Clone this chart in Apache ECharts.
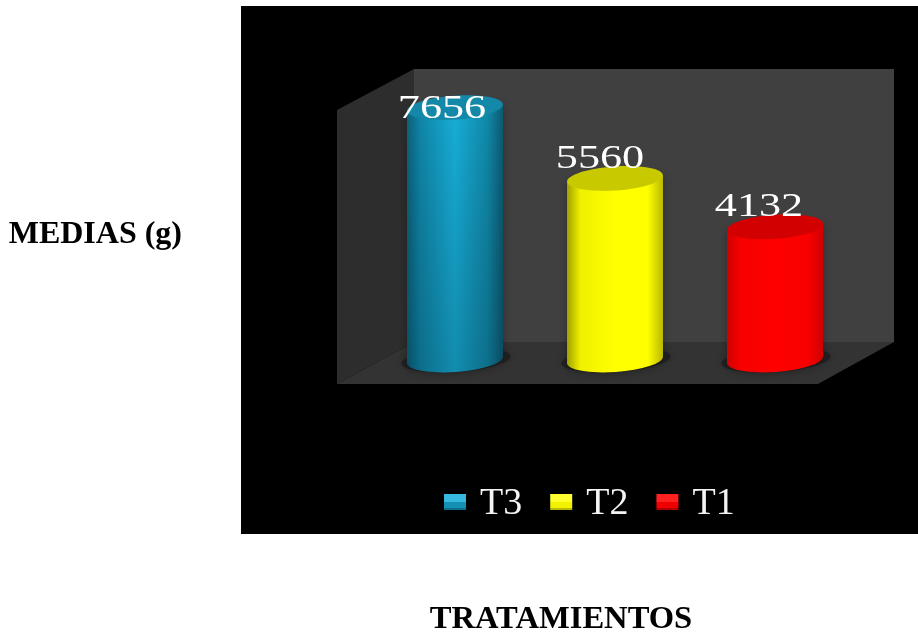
<!DOCTYPE html>
<html>
<head>
<meta charset="utf-8">
<style>html,body{margin:0;padding:0;background:#fff}#chart{width:918px;height:632px}</style>
<script src="https://cdn.jsdelivr.net/npm/echarts@6/dist/echarts.min.js"></script>
</head>
<body>
<div id="chart"></div>
<script>
const categories = ['T3', 'T2', 'T1'];
const values = [7656, 5560, 4132];
const yAxisTitle = 'MEDIAS (g)';
const xAxisTitle = 'TRATAMIENTOS';

// Shading of each cylinder: side stops, lid colour, legend bevel
const palettes = {
  T3: { side: ['#0c6079', '#0f86a8', '#17aed8', '#1088a8', '#0c5a72'], lid: '#1488a8', solid: '#13a0c8',
        bevel: ['#35b9de', '#1590b2', '#0d6f8c'], fade: 'rgba(0,20,30,0.22)' },
  T2: { side: ['#a0a000', '#f0f000', '#ffff00', '#ffff00', '#b8b800'], lid: '#c9c900', solid: '#ffff00',
        bevel: ['#ffff30', '#f2f200', '#b8b800'], fade: 'rgba(0,0,0,0)' },
  T1: { side: ['#d00000', '#f60000', '#ff0000', '#f80000', '#d00000'], lid: '#d20000', solid: '#ff0000',
        bevel: ['#ff2020', '#f00000', '#b00000'], fade: 'rgba(0,0,0,0)' }
};

// Hand placement of the value labels relative to the lid centre
const labelNudge = { T3: [-13, 18], T2: [-15, -3], T1: [-16, -3] };

const RX = 48, RY = 12, TILT_DEG = 4, BASE_LIFT = 6.5;
const TILT = TILT_DEG * Math.PI / 180;

function ellipse(cx, cy, style, z2, rx = RX, ry = RY) {
  return {
    type: 'ellipse', z2,
    shape: { cx, cy, rx, ry },
    rotation: TILT,
    originX: cx, originY: cy,
    style
  };
}

function renderCylinder(params, api) {
  const name = categories[api.value(0)];
  const p = palettes[name];
  const top = api.coord([api.value(0), api.value(1)]);
  const zero = api.coord([api.value(0), 0]);
  const cx = top[0], ty = top[1], by = zero[1] - BASE_LIFT;
  const dy = RX * Math.sin(TILT);
  const stops = [0, 0.14, 0.5, 0.84, 1];
  const sideFill = new echarts.graphic.LinearGradient(0, 0, 1, 0,
    p.side.map((color, i) => ({ offset: stops[i], color })));
  const sideShape = {
    pathData: `M${cx - RX} ${ty + dy} L${cx - RX} ${by + dy} ` +
      `A${RX} ${RY} ${-TILT_DEG} 0 0 ${cx + RX} ${by - dy} L${cx + RX} ${ty - dy} Z`
  };
  const nudge = labelNudge[name];
  return {
    type: 'group',
    children: [
      ellipse(cx + 1, by, { fill: 'rgba(0,0,0,0.3)', shadowBlur: 9, shadowColor: 'rgba(0,0,0,0.4)' }, 1, RX + 7, RY),
      { type: 'path', z2: 2, shape: sideShape,
        style: { fill: sideFill, shadowBlur: 10, shadowColor: 'rgba(0,0,0,0.3)' } },
      { type: 'path', z2: 3, shape: sideShape,
        style: { fill: new echarts.graphic.LinearGradient(0, 0, 0, 1, [
          { offset: 0, color: 'rgba(0,0,0,0)' }, { offset: 1, color: p.fade }]) } },
      ellipse(cx, ty, { fill: p.lid }, 4),
      { type: 'text', z2: 5,
        x: cx + nudge[0], y: ty + nudge[1],
        scaleX: 1.34, scaleY: 1,
        style: { text: String(api.value(1)), fill: '#ffffff',
          font: '33px "Liberation Serif"', textAlign: 'center', textVerticalAlign: 'bottom' } }
    ]
  };
}

// Black panel and the three faces of the chart box
const backdrop = [
  { type: 'rect', z: -10, shape: { x: 241, y: 6, width: 677, height: 528 }, style: { fill: '#000' } },
  { type: 'rect', z: -9, shape: { x: 414, y: 69, width: 480, height: 273 }, style: { fill: '#404040' } },
  { type: 'polygon', z: -9, shape: { points: [[337, 110], [414, 69], [414, 342], [337, 384]] }, style: { fill: '#2d2d2d' } },
  { type: 'polygon', z: -9, shape: { points: [[337, 384], [414, 342], [894, 342], [818, 384]] }, style: { fill: '#333333' } }
];

const chart = echarts.init(document.getElementById('chart'), null, { renderer: 'canvas' });
chart.setOption({
  animation: false,
  backgroundColor: '#ffffff',
  graphic: backdrop,
  grid: { left: 375, width: 480, top: 96, height: 270.5, outerBoundsMode: 'none' },
  legend: {
    left: 439, top: 480,
    itemWidth: 22, itemHeight: 16, itemGap: 28,
    formatter: '{t|{name}}',
    textStyle: {
      rich: { t: { color: '#f4f4f4', fontFamily: 'Liberation Serif', fontSize: 38, padding: [4, 0, 0, 9] } }
    },
    data: categories.map(name => ({
      name, icon: 'rect',
      itemStyle: { color: new echarts.graphic.LinearGradient(0, 0, 0, 1, [
        { offset: 0, color: palettes[name].bevel[0] },
        { offset: 0.5, color: palettes[name].bevel[0] },
        { offset: 0.5, color: palettes[name].bevel[1] },
        { offset: 0.85, color: palettes[name].bevel[1] },
        { offset: 0.85, color: palettes[name].bevel[2] },
        { offset: 1, color: palettes[name].bevel[2] }]) }
    }))
  },
  xAxis: {
    type: 'category', data: categories,
    axisLine: { show: false }, axisTick: { show: false }, axisLabel: { show: false },
    name: xAxisTitle, nameLocation: 'middle', nameGap: 237,
    nameTextStyle: { color: '#000', fontFamily: 'Liberation Serif', fontWeight: 'bold', fontSize: 32.6, padding: [0, 108, 0, 0] }
  },
  yAxis: {
    type: 'value', min: 0, max: 8000,
    axisLine: { show: false }, axisTick: { show: false }, axisLabel: { show: false }, splitLine: { show: false },
    name: yAxisTitle, nameLocation: 'middle', nameRotate: 0, nameGap: 193,
    nameTextStyle: { color: '#000', fontFamily: 'Liberation Serif', fontWeight: 'bold', fontSize: 32, verticalAlign: 'top', lineHeight: 6 }
  },
  series: categories.map((name, i) => ({
    type: 'custom', name,
    coordinateSystem: 'cartesian2d',
    data: [[name, values[i]]],
    encode: { x: 0, y: 1 },
    itemStyle: { color: palettes[name].solid },
    clip: false,
    renderItem: renderCylinder
  }))
});
</script>
</body>
</html>
